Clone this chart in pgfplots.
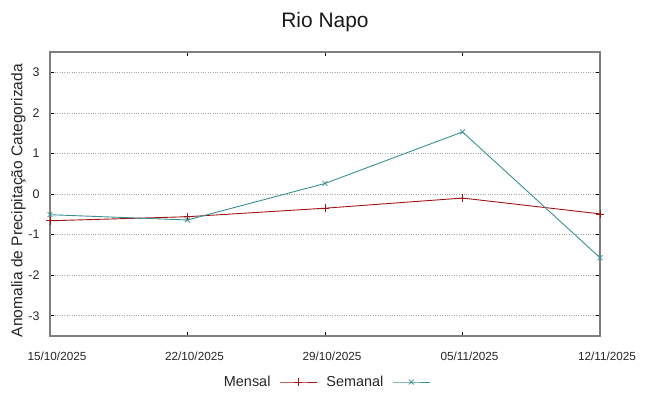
\documentclass[border=0pt]{standalone}
\usepackage{pgfplots}
\pgfplotsset{compat=1.18}
\usepackage{fontspec}
\setmainfont{Liberation Sans}
\definecolor{mensal}{HTML}{A01414}
\definecolor{semanal}{HTML}{3A9090}
\definecolor{bordergray}{HTML}{7F7F7F}
\begin{document}
\begin{tikzpicture}
\useasboundingbox (0,0) rectangle (648bp,396bp);
\begin{axis}[
  at={(50bp,60bp)}, anchor=south west,
  scale only axis, width=550bp, height=284bp,
  xmin=0, xmax=4, ymin=-3.5, ymax=3.5,
  xtick={0,1,2,3,4},
  xticklabels={15/10/2025,22/10/2025,29/10/2025,05/11/2025,12/11/2025},
  ytick={-3,-2,-1,0,1,2,3},
  yticklabels={-3,-2,-1,0,1,2,3},
  tick align=inside,
  major tick length=4bp,
  tick style={black, line width=0.6pt},
  axis line style={draw=bordergray, line width=1.1pt},
  ymajorgrids,
  grid style={gray!70, dotted, line width=0.7pt},
  xticklabel style={font=\fontsize{11.8}{13}\selectfont, anchor=center, yshift=-20bp, xshift=7bp, text=black!85},
  yticklabel style={font=\fontsize{12.5}{13}\selectfont, anchor=east, xshift=-7bp, text=black!85},
  title={Rio Napo},
  title style={font=\fontsize{21}{24}\selectfont, at={(axis description cs:0.5,1)}, anchor=center, yshift=24bp, text=black!90},
  ylabel={Anomalia de Precipitação Categorizada},
  ylabel style={font=\fontsize{15.6}{17}\selectfont, at={(axis description cs:-0.0573,0.477)}, anchor=center, rotate=0, text=black!85},
  legend columns=2,
  legend plot pos=right,
  legend style={at={(axis description cs:0.502,-0.162)}, anchor=center, draw=none, fill=none,
    font=\fontsize{14.5}{16}\selectfont, text=black!85,
    column sep=7bp,
    inner sep=0pt},
  legend image code/.code={\draw[#1, mark repeat=2, mark phase=2] plot coordinates {(0bp,0bp) (18.5bp,0bp) (37bp,0bp)};},
]
\addplot[color=mensal, line width=0.9pt, mark=+, mark size=4bp, mark options={line width=0.7pt}] coordinates {
  (0,-0.66) (1,-0.56) (2,-0.35) (3,-0.10) (4,-0.49)
};
\addlegendentry{Mensal}
\addplot[color=semanal, line width=0.9pt, mark=x, mark size=3.5bp, mark options={line width=0.7pt}] coordinates {
  (0,-0.51) (1,-0.64) (2,0.26) (3,1.53) (4,-1.57)
};
\addlegendentry{Semanal}
\end{axis}
\end{tikzpicture}
\end{document}
